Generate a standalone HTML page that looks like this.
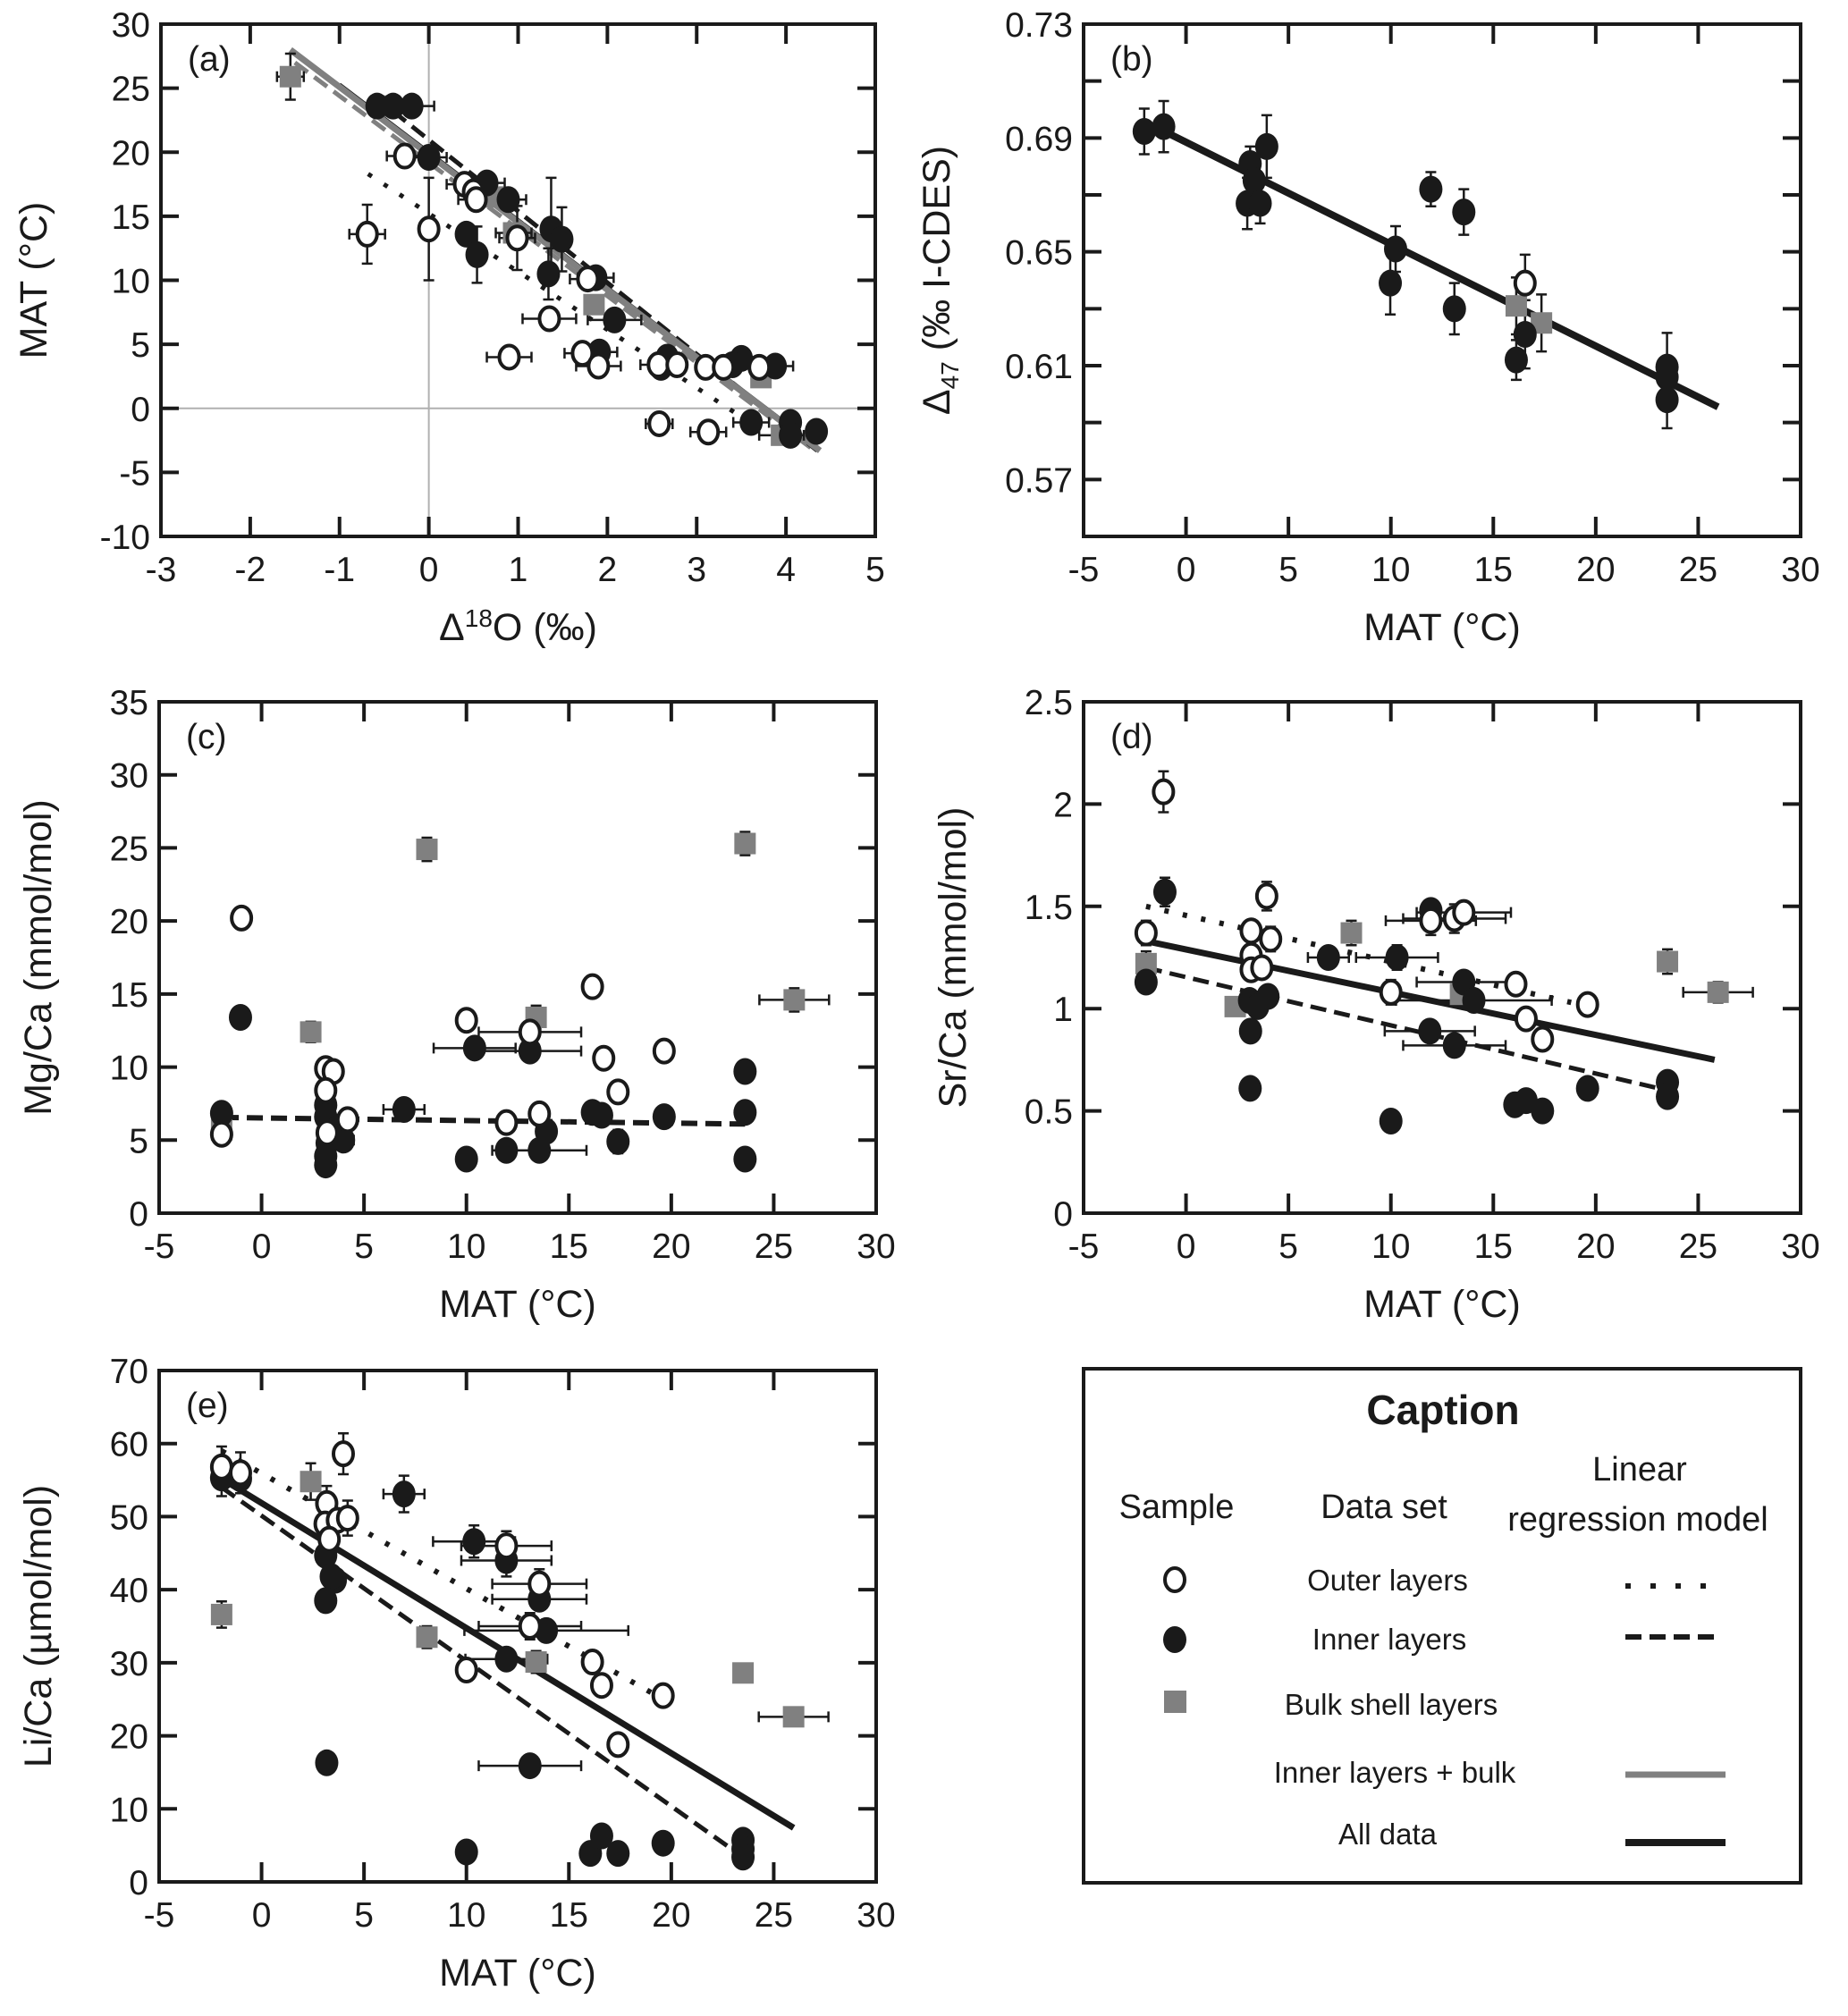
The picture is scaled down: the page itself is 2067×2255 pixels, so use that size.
<!DOCTYPE html>
<html><head><meta charset="utf-8"><style>
html,body{margin:0;padding:0;background:#fff}
svg{display:block}
text{font-family:"Liberation Sans Narrow","Liberation Sans",sans-serif;fill:#1a1a1a}
</style></head><body>
<svg id="fig" width="2067" height="2255" viewBox="0 0 2067 2255" xmlns="http://www.w3.org/2000/svg">
<g id="legend">
<rect x="1212" y="1531" width="802" height="575" fill="none" stroke="#1a1a1a" stroke-width="4"/>
<text x="1614" y="1593" font-size="46" font-weight="bold" text-anchor="middle">Caption</text>
<text x="1316" y="1698" font-size="38" text-anchor="middle">Sample</text>
<text x="1548" y="1698" font-size="38" text-anchor="middle">Data set</text>
<text x="1834" y="1656" font-size="38" text-anchor="middle">Linear</text>
<text x="1832" y="1712" font-size="38" text-anchor="middle">regression model</text>
<ellipse cx="1314" cy="1767" rx="11" ry="13" fill="#fff" stroke="#1a1a1a" stroke-width="4"/>
<text x="1552" y="1779" font-size="33" text-anchor="middle">Outer layers</text>
<line x1="1818" y1="1774" x2="1918" y2="1774" stroke="#1a1a1a" stroke-width="6" stroke-dasharray="6,22"/>
<ellipse cx="1314" cy="1834" rx="13" ry="15" fill="#1a1a1a"/>
<text x="1554" y="1845" font-size="33" text-anchor="middle">Inner layers</text>
<line x1="1818" y1="1831" x2="1924" y2="1831" stroke="#1a1a1a" stroke-width="6" stroke-dasharray="18,9"/>
<rect x="1302" y="1891" width="25" height="25" fill="#808080"/>
<text x="1556" y="1918" font-size="33" text-anchor="middle">Bulk shell layers</text>
<text x="1560" y="1994" font-size="33" text-anchor="middle">Inner layers + bulk</text>
<line x1="1818" y1="1985" x2="1930" y2="1985" stroke="#808080" stroke-width="7"/>
<text x="1552" y="2063" font-size="33" text-anchor="middle">All data</text>
<line x1="1818" y1="2061" x2="1930" y2="2061" stroke="#1a1a1a" stroke-width="8"/>
</g>
</svg>
<script>
// ---- Panel (a) data: [x, y, xerr, yerr]
const aOuter=[[-0.69,13.6,0.2,2.3],[-0.27,19.7,0.2,0],[0.0,14.0,0,4],[0.4,17.5,0.2,0],[0.5,16.9,0,0],[0.53,16.3,0.2,0],[0.99,13.3,0.2,2.5],[1.35,7.0,0.3,0],[0.9,4.0,0.25,0],[1.78,10.1,0.2,0],[1.72,4.3,0.2,0],[1.9,3.3,0.25,0],[2.57,3.4,0.2,0],[2.78,3.4,0,0],[3.1,3.2,0,0],[3.3,3.2,0,0],[3.7,3.2,0,0],[2.58,-1.2,0.15,0],[3.13,-1.85,0.2,0]];
const aInner=[[-0.58,23.6,0,0],[-0.4,23.6,0,0],[-0.19,23.6,0.25,0],[0,19.6,0.2,0],[0.65,17.6,0.2,0],[0.89,16.3,0.2,0],[0.42,13.6,0,0],[0.54,12.0,0,2.2],[1.37,14.0,0,4],[1.49,13.2,0,2.5],[1.34,10.5,0,2],[1.87,10.2,0.2,0],[2.08,6.9,0.3,0],[1.91,4.4,0.2,0],[2.67,4.0,0,0],[2.6,3.2,0,0],[3.5,3.9,0,0],[3.4,3.4,0,0],[3.88,3.3,0.2,0],[3.61,-1.1,0.2,0],[4.05,-1.1,0,0],[4.05,-2.1,0,0],[4.34,-1.8,0,0]];
const aBulk=[[-1.55,25.9,0.15,1.8],[-0.45,23.6,0,0],[0.72,16.5,0,0],[0.95,13.7,0.2,0],[1.85,8.1,0,0],[3.72,2.4,0,0],[3.95,-2.1,0.25,0]];
const aLineBulk=[-1.55,28.0,4.38,-3.3];
const aLineAll=[-1.0,25.3,4.35,-3.0];
const aLineInner=[-0.4,23.2,4.35,-3.3];
const aLineBulkDash=[-1.5,27.0,4.3,-3.2];
const aLineOuter=[-0.68,18.3,3.42,-0.3];

// ---- Panel (b)
const bInner=[[-2.04,0.6923,0,0.008],[-1.09,0.694,0,0.009],[3.13,0.681,0,0.006],[3.33,0.675,0,0],[3.94,0.687,0,0.011],[2.99,0.667,0,0.009],[3.62,0.667,0,0.007],[11.95,0.672,0,0.006],[13.56,0.664,0,0.008],[10.23,0.651,0,0.008],[9.97,0.639,0,0.011],[13.1,0.630,0,0.009],[16.55,0.621,0,0.012],[16.12,0.612,0,0.007],[23.48,0.6095,0,0.012],[23.48,0.606,0,0],[23.48,0.598,0,0.01]];
const bOuter=[[16.55,0.639,0,0.01]];
const bBulk=[[16.12,0.631,0,0.01],[17.35,0.625,0,0.01]];
const bLineAll=[-1.47,0.6938,25.97,0.5955];

// ---- Panel (c)
const cInner=[[-1.95,6.84,0,0.6],[-1.03,13.4,0,0.7],[3.13,7.4,0,0],[3.13,6.6,0,0],[3.2,4.8,0,0],[3.13,3.9,0,0],[3.13,3.3,0,0.5],[3.7,5.8,0,0],[4.0,5.0,0.5,0.7],[6.95,7.1,1,0.5],[10.4,11.3,2,0.6],[13.1,11.1,2.5,0.6],[10.0,3.7,0,0.6],[11.95,4.3,0,0.5],[13.56,4.3,2.3,0.6],[13.9,5.6,0,0],[16.15,6.9,0,0.5],[16.6,6.7,0,0.5],[17.4,4.9,0,0.8],[19.65,6.6,0,0.7],[23.6,9.7,0,0.7],[23.6,6.9,0,0.7],[23.6,3.7,0,0.7]];
const cOuter=[[-0.98,20.2,0,0.6],[-1.95,5.4,0,0.5],[3.13,9.9,0,0.6],[3.5,9.7,0,0],[3.13,8.4,0,0],[4.2,6.4,0,0],[3.2,5.5,0,0],[10.0,13.2,0,0.6],[13.1,12.4,2.5,0],[11.95,6.2,0,0.6],[13.56,6.8,0,0],[16.15,15.5,0,0.6],[16.7,10.6,0,0.6],[17.4,8.3,0,0.6],[19.65,11.1,0,0.6]];
const cBulk=[[-1.95,5.7,0,0],[2.4,12.4,0,0.7],[8.07,24.9,0,0.8],[13.4,13.4,0,0.8],[23.6,25.3,0,0.8],[26.0,14.6,1.7,0.8]];
const cLineInner=[-1.9,6.55,23.6,6.1];

// ---- Panel (d)
const dOuter=[[-1.1,2.06,0,0.1],[-1.95,1.37,0,0.06],[3.18,1.38,0,0.05],[3.18,1.26,0,0],[3.18,1.19,0,0],[3.7,1.2,0,0],[4.13,1.34,0,0.06],[3.94,1.55,0,0.07],[11.95,1.43,2.2,0.07],[13.1,1.44,2.5,0.07],[13.56,1.47,2.3,0.05],[10.0,1.08,0,0.06],[16.1,1.12,0,0.05],[16.6,0.95,0,0],[17.4,0.85,0,0],[19.6,1.02,0,0]];
const dInner=[[-1.03,1.57,0,0.07],[-1.95,1.13,0,0],[3.1,1.04,0,0],[3.5,1.01,0,0],[3.15,0.89,0,0],[4.0,1.06,0,0],[3.13,0.61,0,0],[6.95,1.25,1,0.05],[10.3,1.25,2,0.06],[10.0,0.45,0,0],[11.95,1.48,0,0.05],[13.56,1.13,2.3,0],[14.05,1.04,3.8,0],[11.9,0.89,2.2,0],[13.1,0.82,2.5,0],[16.05,0.53,0,0],[16.6,0.55,0,0],[17.4,0.50,0,0],[19.6,0.61,0,0],[23.5,0.64,0,0],[23.5,0.57,0,0]];
const dBulk=[[-1.95,1.22,0,0.06],[2.4,1.01,0,0],[8.07,1.37,0,0.06],[13.4,1.07,0,0],[23.5,1.23,0,0.06],[25.97,1.08,1.7,0.05]];
const dLineOuter=[-1.95,1.50,18.8,1.03];
const dLineAll=[-1.95,1.33,25.8,0.75];
const dLineInner=[-1.95,1.20,23.5,0.60];

// ---- Panel (e)
const eOuter=[[-1.95,56.8,0,2.8],[-1.03,56.0,0,2.8],[3.99,58.6,0,2.8],[3.18,51.8,0,2.4],[3.1,49.0,0,0],[3.7,49.5,0,0],[4.2,49.8,0,2.4],[3.3,46.9,0,0],[11.95,46.0,2.2,2],[13.56,40.8,2.3,2],[13.1,35.0,2.5,1.8],[10.0,29.0,0,0],[16.15,30.1,0,0],[16.6,26.9,0,0],[19.6,25.5,0,0],[17.4,18.8,0,0]];
const eInner=[[-1.95,55.3,0,2.5],[-1.03,55.2,0,0],[3.13,44.7,0,0],[3.6,41.3,0,0],[3.4,41.8,0,0],[3.13,38.5,0,1.5],[6.95,53.1,1,2.5],[10.37,46.6,2,2.2],[11.95,44.0,2.2,2.2],[13.56,38.7,2.3,0],[13.9,34.4,4,1.5],[11.95,30.5,2,0],[3.18,16.3,0,0],[13.1,15.9,2.5,0],[10.0,4.1,0,0],[16.05,3.9,0,0],[16.6,6.3,0,0],[17.4,3.9,0,0],[19.6,5.3,0,0],[23.5,5.7,0,0],[23.5,4.5,0,0],[23.5,3.4,0,0]];
const eBulk=[[-1.95,36.6,0,1.8],[2.4,54.8,0,2.5],[8.07,33.5,0,1.5],[13.4,30.1,0,1.5],[23.5,28.6,0,1.2],[25.97,22.6,1.7,0]];
const eLineOuter=[-1.95,59.0,19.6,25.0];
const eLineAll=[-1.95,55.2,25.97,7.4];
const eLineInner=[-1.95,54.0,23.5,3.4];

const NS='http://www.w3.org/2000/svg';
const svg=document.getElementById('fig');
const BLK='#1a1a1a', GRY='#808080';
function mk(tag,attrs,parent){const e=document.createElementNS(NS,tag);for(const k in attrs)e.setAttribute(k,attrs[k]);parent.appendChild(e);return e;}
function fmt(v,d){return d>0?v.toFixed(d):String(Math.round(v));}

function panel(p){
  const g=mk('g',{},svg);
  
  
  const sx=v=>p.L+(v-p.xmin)/(p.xmax-p.xmin)*(p.R-p.L);
  const sy=v=>p.B-(v-p.ymin)/(p.ymax-p.ymin)*(p.B-p.T);
  if(p.grid){
    const gx=mk('line',{x1:sx(0),x2:sx(0),y1:p.T,y2:p.B,stroke:'#b0b0b0','stroke-width':2},g);
    
    const gy=mk('line',{x1:p.L,x2:p.R,y1:sy(0),y2:sy(0),stroke:'#b0b0b0','stroke-width':2},g);
    
  }
  for(let i=0;;i++){const v=p.xmin+i*p.xstep;if(v>p.xmax+1e-9)break;const x=sx(v);
    if(i>0&&v<p.xmax-1e-9){mk('line',{x1:x,x2:x,y1:p.B,y2:p.B-22,stroke:BLK,'stroke-width':4},g);mk('line',{x1:x,x2:x,y1:p.T,y2:p.T+22,stroke:BLK,'stroke-width':4},g);}
    const t=mk('text',{x:x,y:p.B+50,'font-size':39,'text-anchor':'middle'},g);t.textContent=fmt(v,0);
    }
  for(let i=0;;i++){const v=p.ymin+i*p.ystep;if(v>p.ymax+1e-9)break;const y=sy(v);
    if(i>0&&v<p.ymax-1e-9){mk('line',{x1:p.L,x2:p.L+20,y1:y,y2:y,stroke:BLK,'stroke-width':4},g);mk('line',{x1:p.R,x2:p.R-20,y1:y,y2:y,stroke:BLK,'stroke-width':4},g);}
    if(p.labelEvery&&(i%p.labelEvery)!==p.labelOff)continue;
    const t=mk('text',{x:p.L-12,y:y+14,'font-size':39,'text-anchor':'end'},g);t.textContent=p.ytrim?String(parseFloat(v.toFixed(2))):fmt(v,p.ydec);
    }
  const fr=mk('rect',{x:p.L,y:p.T,width:p.R-p.L,height:p.B-p.T,fill:'none',stroke:BLK,'stroke-width':4},g);
  
  const pl=mk('text',{x:p.L+30,y:p.T+52,'font-size':39},g);pl.textContent='('+p.id+')';
  
  const xt=mk('text',{x:(p.L+p.R)/2,y:p.B+116,'font-size':43,'text-anchor':'middle'},g);
  xt.innerHTML=p.xtitle;
  
  const yc=(p.T+p.B)/2;
  const yt=mk('text',{x:p.ytx,y:yc,'font-size':43,'text-anchor':'middle',transform:'rotate(-90 '+p.ytx+' '+yc+')'},g);
  yt.innerHTML=p.ytitle;
  
  (p.lines||[]).forEach(ln=>{
    const d=ln.d;
    const l=mk('line',{x1:sx(d[0]),y1:sy(d[1]),x2:sx(d[2]),y2:sy(d[3]),stroke:ln.c,'stroke-width':ln.w,'stroke-dasharray':ln.dash||'none'},g);
    
    
  });
  function errs(pts){pts.forEach(q=>{
    const x=sx(q[0]),y=sy(q[1]);
    if(q[2]){const a=sx(q[0]-q[2]),b=sx(q[0]+q[2]);
      const e=mk('path',{d:`M${a} ${y}H${b}M${a} ${y-6}V${y+6}M${b} ${y-6}V${y+6}`,stroke:BLK,'stroke-width':2.5,fill:'none'},g);
      }
    if(q[3]){const a=sy(q[1]-q[3]),b=sy(q[1]+q[3]);
      const e=mk('path',{d:`M${x} ${a}V${b}M${x-6} ${a}H${x+6}M${x-6} ${b}H${x+6}`,stroke:BLK,'stroke-width':2.5,fill:'none'},g);
      }
  });}
  errs(p.bulk);errs(p.inner);errs(p.outer);
  p.bulk.forEach(q=>{const r=mk('rect',{x:sx(q[0])-12,y:sy(q[1])-12,width:24,height:24,fill:GRY},g);
    });
  p.inner.forEach(q=>{const c=mk('ellipse',{cx:sx(q[0]),cy:sy(q[1]),rx:13,ry:15,fill:BLK},g);
    });
  p.outer.forEach(q=>{const c=mk('ellipse',{cx:sx(q[0]),cy:sy(q[1]),rx:11,ry:13,fill:'#fff',stroke:BLK,'stroke-width':4},g);
    });
}
const DOT='5,16', DASH='18,9';
panel({id:'a',L:180,R:979,T:27,B:600,xmin:-3,xmax:5,xstep:1,ymin:-10,ymax:30,ystep:5,ydec:0,grid:true,ytx:52,
  xtitle:'Δ<tspan font-size="28" dy="-15">18</tspan><tspan dy="15">O (‰)</tspan>',ytitle:'MAT (°C)',
  outer:aOuter,inner:aInner,bulk:aBulk,
  lines:[{d:aLineOuter,c:BLK,w:5,dash:DOT,name:'outer-regression'},{d:aLineBulkDash,c:GRY,w:5,dash:DASH,name:'bulk-regression'},{d:aLineInner,c:BLK,w:5,dash:DASH,name:'inner-regression'},{d:aLineAll,c:BLK,w:4,name:'all-regression'},{d:aLineBulk,c:GRY,w:7,name:'inner-bulk-regression'}]});
panel({id:'b',L:1212,R:2014,T:27,B:600,xmin:-5,xmax:30,xstep:5,ymin:0.55,ymax:0.73,ystep:0.02,ydec:2,labelEvery:2,labelOff:1,ytx:1062,
  xtitle:'MAT (°C)',ytitle:'Δ<tspan font-size="28" dy="10">47</tspan><tspan dy="-10"> (‰ I-CDES)</tspan>',
  outer:bOuter,inner:bInner,bulk:bBulk,
  lines:[{d:bLineAll,c:BLK,w:8,name:'all-regression'}]});
panel({id:'c',L:178,R:980,T:785,B:1357,xmin:-5,xmax:30,xstep:5,ymin:0,ymax:35,ystep:5,ydec:0,ytx:57,
  xtitle:'MAT (°C)',ytitle:'Mg/Ca (mmol/mol)',outer:cOuter,inner:cInner,bulk:cBulk,
  lines:[{d:cLineInner,c:BLK,w:6,dash:DASH,name:'inner-regression'}]});
panel({id:'d',L:1212,R:2014,T:785,B:1357,xmin:-5,xmax:30,xstep:5,ymin:0,ymax:2.5,ystep:0.5,ydec:1,ytrim:true,ytx:1080,
  xtitle:'MAT (°C)',ytitle:'Sr/Ca (mmol/mol)',outer:dOuter,inner:dInner,bulk:dBulk,
  lines:[{d:dLineOuter,c:BLK,w:6,dash:DOT,name:'outer-regression'},{d:dLineInner,c:BLK,w:5,dash:DASH,name:'inner-regression'},{d:dLineAll,c:BLK,w:7,name:'all-regression'}]});
panel({id:'e',L:178,R:980,T:1533,B:2105,xmin:-5,xmax:30,xstep:5,ymin:0,ymax:70,ystep:10,ydec:0,ytx:57,
  xtitle:'MAT (°C)',ytitle:'Li/Ca (µmol/mol)',outer:eOuter,inner:eInner,bulk:eBulk,
  lines:[{d:eLineOuter,c:BLK,w:6,dash:DOT,name:'outer-regression'},{d:eLineInner,c:BLK,w:5,dash:DASH,name:'inner-regression'},{d:eLineAll,c:BLK,w:7,name:'all-regression'}]});
svg.appendChild(document.getElementById('legend'));
</script>
</body></html>
